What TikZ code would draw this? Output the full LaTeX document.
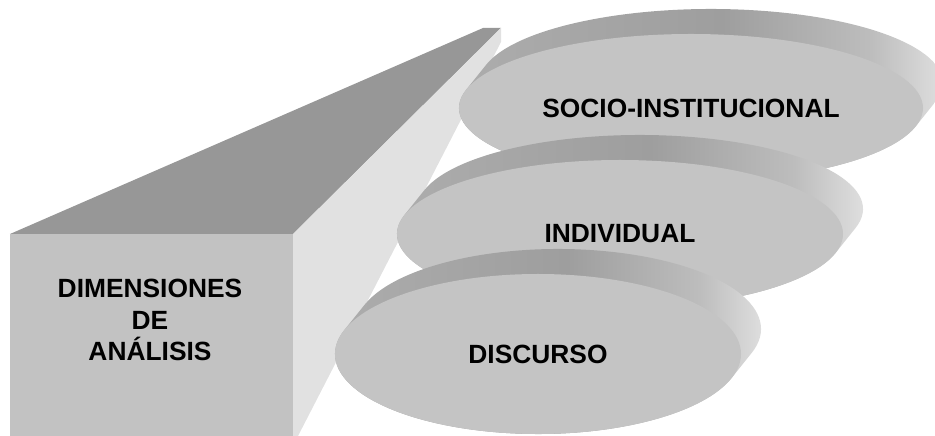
\documentclass[tikz,border=0pt]{standalone}
\usepackage{fontspec}
\setmainfont{Liberation Sans}
\usetikzlibrary{shapes.geometric}

\definecolor{caragris}{HTML}{C2C2C2}
\definecolor{tapagris}{HTML}{979797}
\definecolor{ladogris}{HTML}{E1E1E1}
\definecolor{discogris}{HTML}{C4C4C4}
\definecolor{bandaizq}{HTML}{AEAEAE}
\definecolor{bandaosc}{HTML}{9E9E9E}
\definecolor{bandamed}{HTML}{BDBDBD}
\definecolor{bandaclara}{HTML}{EAEAEA}
\pgfdeclarehorizontalshading{bandagris}{100bp}{color(0bp)=(bandaizq); color(25bp)=(bandaizq); color(52bp)=(bandaosc); color(66bp)=(bandamed); color(75bp)=(bandaclara); color(100bp)=(bandaclara)}

\tikzset{
  rotulo/.style={font=\bfseries\fontsize{15}{18}\selectfont, text=black},
  disco/.style={ellipse, fill=discogris, inner sep=0pt, rotulo},
  banda/.style={shading=bandagris}
}

\begin{document}
\begin{tikzpicture}
    % marco
    \clip (0,0) rectangle (18.7,8.72);

    % caja: frente, tapa y lado
    \fill[caragris] (0.2,0) rectangle (5.86,4.04);
    \fill[tapagris] (0.2,4.04) -- (9.66,8.16) -- (10.02,8.16) -- (5.86,4.04) -- cycle;
    \fill[ladogris] (5.86,4.04) -- (10.02,8.16) -- (10.02,7.88) -- (5.96,0) -- (5.86,0) -- cycle;
    \node[rotulo, align=center] (dimensiones) at (3.0,2.32) {DIMENSIONES\\DE\\ANÁLISIS};

    % disco de arriba
    \begin{scope}[shift={(13.82,6.56)}]
        \shade[banda] (-14.3:4.64 and 1.48) -- ++(0.4,0.5)
            arc[start angle=-14.3, end angle=165.7, x radius=4.64, y radius=1.48] -- ++(-0.4,-0.5)
            arc[start angle=165.7, end angle=345.7, x radius=4.64, y radius=1.48] -- cycle;
        \node[disco, minimum width=9.28cm, minimum height=2.96cm] (socio) at (0,0) {SOCIO-INSTITUCIONAL};
    \end{scope}

    % disco del medio
    \begin{scope}[shift={(12.4,4.04)}]
        \shade[banda] (-14.9:4.46 and 1.48) -- ++(0.4,0.5)
            arc[start angle=-14.9, end angle=165.1, x radius=4.46, y radius=1.48] -- ++(-0.4,-0.5)
            arc[start angle=165.1, end angle=345.1, x radius=4.46, y radius=1.48] -- cycle;
        \node[disco, minimum width=8.92cm, minimum height=2.96cm] (individual) at (0,0) {INDIVIDUAL};
    \end{scope}

    % disco de abajo
    \begin{scope}[shift={(10.76,1.64)}]
        \shade[banda] (-17.5:4.06 and 1.6) -- ++(0.4,0.5)
            arc[start angle=-17.5, end angle=162.5, x radius=4.06, y radius=1.6] -- ++(-0.4,-0.5)
            arc[start angle=162.5, end angle=342.5, x radius=4.06, y radius=1.6] -- cycle;
        \node[disco, minimum width=8.12cm, minimum height=3.2cm] (discurso) at (0,0) {DISCURSO};
    \end{scope}
\end{tikzpicture}
\end{document}
